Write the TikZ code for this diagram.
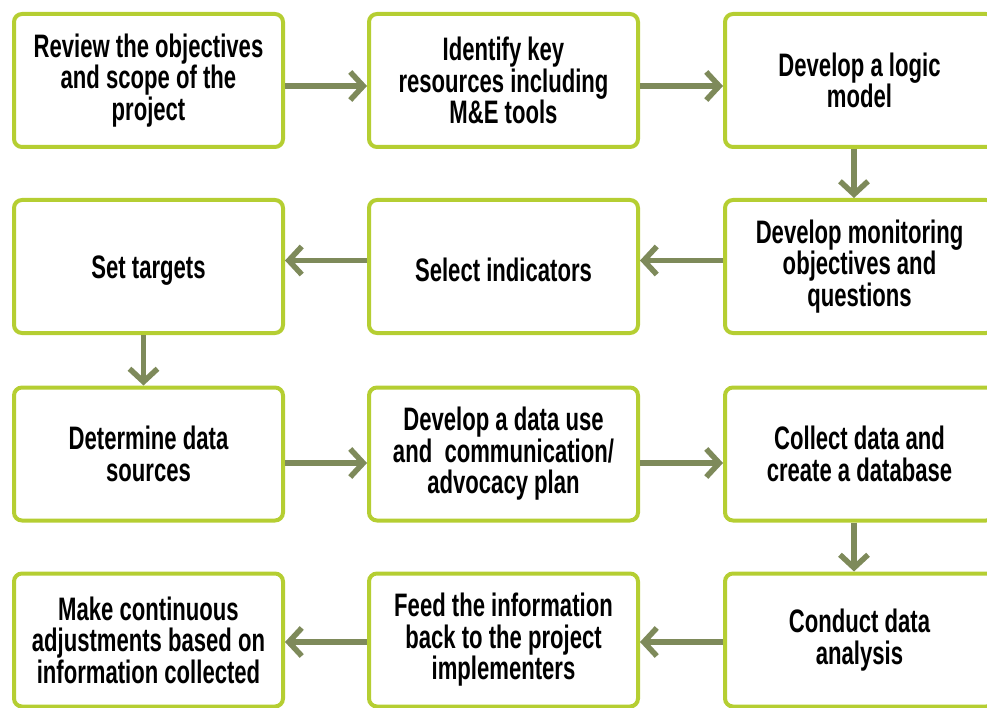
\documentclass[tikz,border=0pt]{standalone}
\usepackage{fontspec}
\setmainfont[FakeStretch=0.68]{Liberation Sans}
\usetikzlibrary{arrows.meta}
\definecolor{boxgreen}{HTML}{B5CE32}
\definecolor{arrowolive}{HTML}{7E8A5A}
\tikzset{
  stepbox/.style={draw=boxgreen, line width=4pt, rounded corners=8pt, fill=white,
    minimum width=269pt, minimum height=133pt, align=center, inner sep=4pt,
    font=\fontsize{32.5}{31.5}\selectfont\bfseries, text=black,
    execute at begin node={\rule{0pt}{30pt}}},
  flowarrow/.style={draw=arrowolive, line width=5.5pt,
    -{Straight Barb[length=13pt, width=28pt, line cap=butt]}}
}
\begin{document}
\begin{tikzpicture}[x=1pt, y=-1pt]
\useasboundingbox (0,0) rectangle (987,708);
\node[stepbox] (a) at (148.5,80.5) {Review the objectives\\and scope of the\\project};
\node[stepbox] (b) at (503.5,80.5) {Identify key\\resources including\\M\&E tools};
\node[stepbox] (c) at (859.5,80.5) {Develop a logic\\model};
\node[stepbox] (f) at (859.5,266.5) {Develop monitoring\\objectives and\\questions};
\node[stepbox] (e) at (503.5,266.5) {Select indicators};
\node[stepbox] (d) at (148.5,266.5) {Set targets};
\node[stepbox] (g) at (148.5,454) {Determine data\\sources};
\node[stepbox] (h) at (503.5,454) {Develop a data use\\and~ communication/\\advocacy plan};
\node[stepbox] (i) at (859.5,454) {Collect data and\\create a database};
\node[stepbox] (l) at (859.5,640) {Conduct data\\analysis};
\node[stepbox] (k) at (503.5,640) {Feed the information\\back to the project\\implementers};
\node[stepbox] (j) at (148.5,640) {Make continuous\\adjustments based on\\information collected};
\draw[flowarrow] ([yshift=-5.5pt]a.east) -- ([yshift=-5.5pt]b.west);
\draw[flowarrow] ([yshift=-5.5pt]b.east) -- ([yshift=-5.5pt]c.west);
\draw[flowarrow] ([xshift=-5.5pt]c.south) -- ([xshift=-5.5pt]f.north);
\draw[flowarrow] ([yshift=6pt]f.west) -- ([yshift=6pt]e.east);
\draw[flowarrow] ([yshift=6pt]e.west) -- ([yshift=6pt]d.east);
\draw[flowarrow] ([xshift=-5pt]d.south) -- ([xshift=-5pt]g.north);
\draw[flowarrow] ([yshift=-9pt]g.east) -- ([yshift=-9pt]h.west);
\draw[flowarrow] ([yshift=-9pt]h.east) -- ([yshift=-9pt]i.west);
\draw[flowarrow] ([xshift=-5.5pt]i.south) -- ([xshift=-5.5pt]l.north);
\draw[flowarrow] ([yshift=-2pt]l.west) -- ([yshift=-2pt]k.east);
\draw[flowarrow] ([yshift=-2pt]k.west) -- ([yshift=-2pt]j.east);
\end{tikzpicture}
\end{document}
